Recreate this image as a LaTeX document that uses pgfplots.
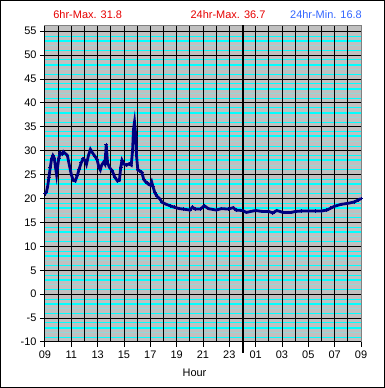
\documentclass[border=0pt]{standalone}
\usepackage{pgfplots}
\pgfplotsset{compat=1.18}
\usepackage{fontspec}
\setmainfont{Liberation Sans}
\definecolor{plotbg}{RGB}{192,192,192}
\definecolor{navyline}{RGB}{0,0,128}
\definecolor{titleblue}{RGB}{51,102,255}
\definecolor{titlered}{RGB}{230,0,0}
\definecolor{gridcyan}{RGB}{0,255,255}
\definecolor{lightcyan}{RGB}{150,215,215}
\begin{document}
\begin{tikzpicture}[x=1bp,y=1bp]
\path[use as bounding box] (0,0) rectangle (385,388);
\draw[black, line width=1bp] (0.5,0.5) rectangle (384.5,387.5);
\begin{axis}[
  at={(45bp,46bp)}, anchor=south west,
  scale only axis, width=316bp, height=316bp,
  xmin=0, xmax=24, ymin=-10, ymax=56.1,
  clip=false,
  axis background/.style={fill=plotbg},
  axis line style={draw=gray, line width=1bp},
  xtick={0,2,...,24},
  xticklabels={09,11,13,15,17,19,21,23,01,03,05,07,09},
  minor xtick={1,3,...,23},
  ytick={-10,-5,...,55},
  minor ytick={-9,-6,-4,-1,1,4,6,9,11,14,16,19,21,24,26,29,31,34,36,39,41,44,46,49,51,54},
  extra y ticks={-7,-2,3,8,13,18,23,28,33,38,43,48,53},
  extra y tick labels={},
  extra y tick style={grid=major, major grid style={gridcyan, line width=2bp}, major tick length=0pt},
  xmajorgrids, xminorgrids, ymajorgrids, yminorgrids,
  major grid style={black, line width=1bp},
  minor grid style={gridcyan, line width=0.9bp},
  tick pos=left,
  tick align=outside,
  major tick length=5bp,
  minor tick length=0pt,
  tick style={black, line width=1bp},
  tick label style={font=\fontsize{11}{13}\selectfont},
  /pgf/number format/assume math mode=true,
]
\pgfplotsinvokeforeach{-8,-3,2,7,12,17,22,27,32,37,42,47,52}{
  \draw[lightcyan, line width=0.8bp] (axis cs:0,#1) -- (axis cs:24,#1);
}
\pgfplotsinvokeforeach{1,2,...,23}{
  \draw[black, line width=1bp] (axis cs:#1,-10) -- (axis cs:#1,56.1);
}
\draw[black, line width=1bp] (rel axis cs:0,0) -- (rel axis cs:0,1);
\draw[black, line width=1bp] (rel axis cs:0,0) -- (rel axis cs:1,0);
\draw[black, line width=2bp] (axis cs:15,-12.3) -- (axis cs:15,56.4);
\addplot[navyline, line width=2.8bp, mark=+, mark size=1.8bp, mark options={line width=0.8bp}] coordinates {
(0.00,21.0) (0.10,21.3) (0.20,22.5) (0.30,24.5) (0.40,26.5) (0.50,28.3) (0.60,29.0) (0.70,28.5)
(0.80,26.5) (0.88,25.0) (0.95,26.5) (1.05,28.5) (1.15,29.6) (1.30,29.3) (1.40,29.8) (1.55,29.4)
(1.70,29.0) (1.85,27.0) (2.00,25.0) (2.15,23.8) (2.30,23.7) (2.45,24.8) (2.60,26.2) (2.75,27.5)
(2.90,28.3) (3.05,28.0) (3.15,27.2) (3.30,29.0) (3.45,30.3) (3.60,29.6) (3.80,28.8) (3.95,28.2)
(4.10,26.5) (4.20,26.0) (4.30,27.0) (4.45,27.6) (4.55,27.2) (4.65,31.3) (4.75,27.5) (4.90,26.5)
(5.10,25.8) (5.30,24.5) (5.50,23.7) (5.65,23.8) (5.75,26.5) (5.85,28.0) (6.00,27.2) (6.20,27.0)
(6.40,27.3) (6.55,27.0) (6.65,30.0) (6.72,34.5) (6.80,36.0) (6.90,33.0) (6.95,29.0) (7.05,26.0)
(7.20,25.8) (7.35,25.5) (7.50,24.0) (7.65,23.5) (7.85,23.0) (8.00,22.8) (8.10,23.5) (8.20,22.5)
(8.35,21.2) (8.50,20.5) (8.70,20.0) (8.90,19.2) (9.20,18.8) (9.50,18.5) (9.80,18.2) (10.20,17.9)
(10.50,17.8) (11.00,17.6) (11.20,18.2) (11.40,17.8) (11.80,17.8) (12.10,18.5) (12.40,17.9) (13.00,17.6)
(13.40,17.9) (13.90,17.8) (14.30,18.1) (14.50,17.6) (15.00,17.5) (15.30,17.1) (15.60,17.3) (16.00,17.5)
(16.50,17.3) (17.00,17.3) (17.30,17.0) (17.60,17.5) (18.10,17.1) (18.50,17.1) (18.70,17.1) (19.00,17.3)
(19.50,17.4) (20.00,17.4) (20.50,17.4) (21.00,17.4) (21.40,17.6) (21.70,18.0) (22.00,18.4) (22.50,18.8)
(23.00,19.0) (23.50,19.3) (23.80,19.7) (24.00,20.0)
};
\end{axis}
\node[titlered, font=\fontsize{11}{13}\selectfont] at (87.7,373) {6hr-Max. 31.8};
\node[titlered, font=\fontsize{11}{13}\selectfont] at (228,373) {24hr-Max. 36.7};
\node[titleblue, font=\fontsize{11}{13}\selectfont] at (326,373) {24hr-Min. 16.8};
\node[font=\fontsize{11}{13}\selectfont] at (194.5,15) {Hour};
\end{tikzpicture}
\end{document}
